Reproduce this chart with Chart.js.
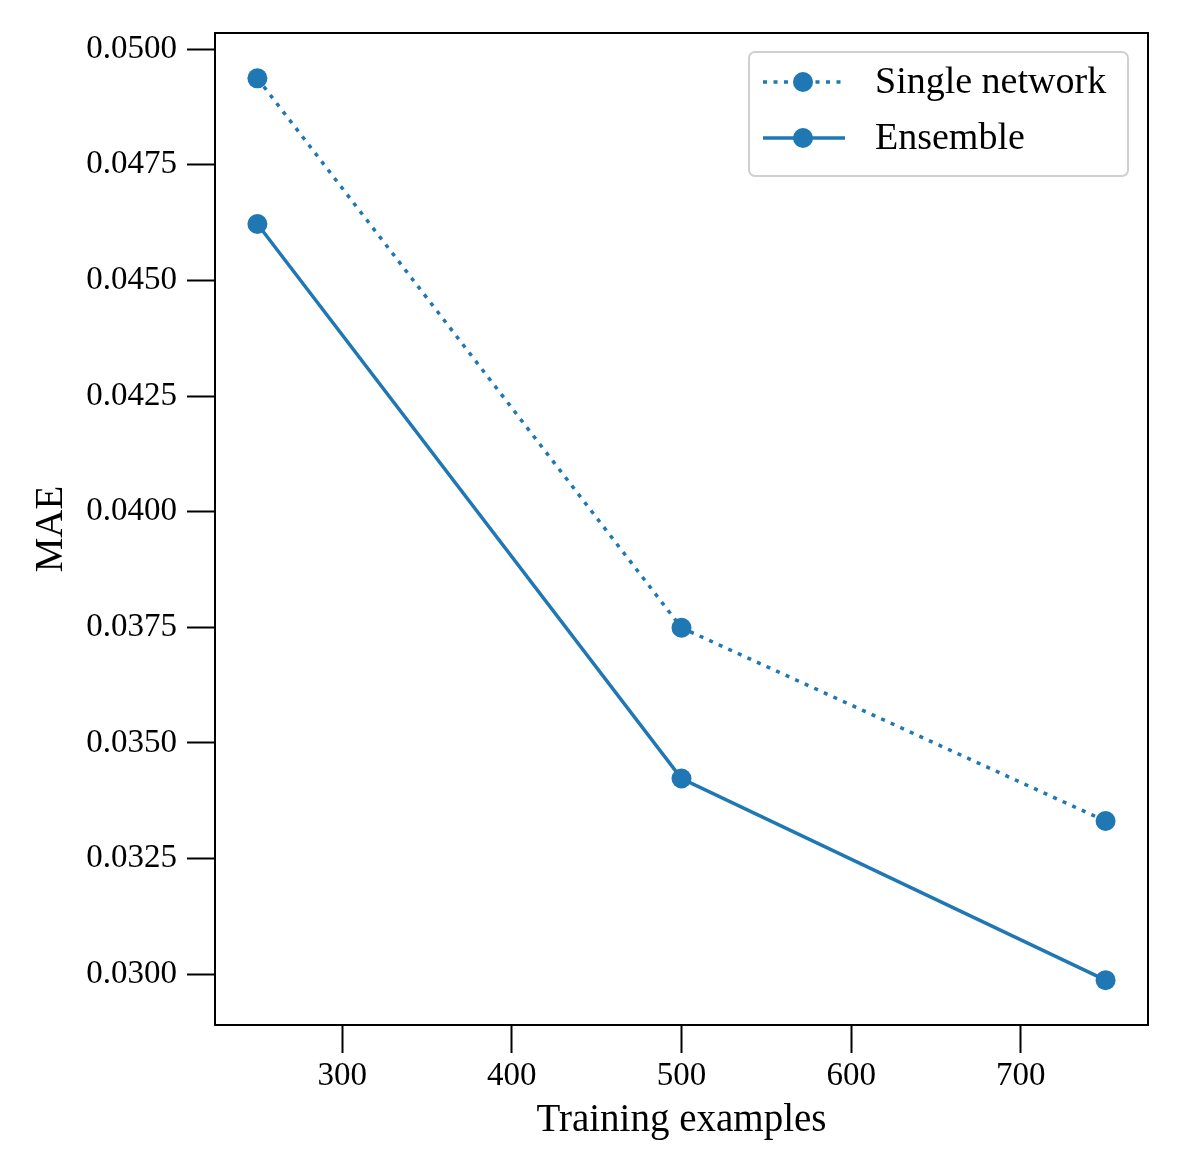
<!DOCTYPE html>
<html>
<head>
<meta charset="utf-8">
<script src="https://cdn.jsdelivr.net/npm/chart.js@4/dist/chart.umd.min.js"></script>
<style>
  html, body { margin: 0; padding: 0; background: #fff; }
</style>
</head>
<body>
<canvas id="maeChart" width="1196" height="1170"></canvas>
<script>
// training set sizes and errors
const trainingSizes = [250, 500, 750];
const singleNetworkMAE = [0.04937, 0.03749, 0.03331];
const ensembleMAE = [0.04622, 0.03423, 0.02987];
const seriesLabels = ["Single network", "Ensemble"];

const xTickValues = [300, 400, 500, 600, 700];
const yTickValues = [0.0300, 0.0325, 0.0350, 0.0375, 0.0400, 0.0425, 0.0450, 0.0475, 0.0500];

const blue = "#1f77b4";
const serif = "'Liberation Serif', 'DejaVu Serif', serif";

function toPoints(xs, ys) {
    return xs.map((x, i) => ({ x: x, y: ys[i] }));
}

// box around the plot + framed legend like matplotlib
const frameAndLegend = {
    id: "frameAndLegend",
    afterDraw(chart) {
        const c = chart.ctx;
        const a = chart.chartArea;
        c.save();
        c.strokeStyle = "#000";
        c.lineWidth = 2;
        c.strokeRect(a.left, a.top, a.right - a.left, a.bottom - a.top);

        // legend box
        const bx = 749, by = 52, bw = 379, bh = 124, r = 6;
        c.beginPath();
        c.moveTo(bx + r, by);
        c.arcTo(bx + bw, by, bx + bw, by + bh, r);
        c.arcTo(bx + bw, by + bh, bx, by + bh, r);
        c.arcTo(bx, by + bh, bx, by, r);
        c.arcTo(bx, by, bx + bw, by, r);
        c.closePath();
        c.fillStyle = "rgba(255,255,255,0.8)";
        c.fill();
        c.strokeStyle = "#d0d0d0";
        c.lineWidth = 2;
        c.stroke();

        chart.data.datasets.forEach((ds, i) => {
            const y = 82 + i * 56;
            c.strokeStyle = ds.borderColor;
            c.lineWidth = ds.borderWidth;
            c.setLineDash(ds.borderDash || []);
            c.beginPath();
            c.moveTo(763, y);
            c.lineTo(845, y);
            c.stroke();
            c.setLineDash([]);
            c.fillStyle = ds.pointBackgroundColor;
            c.beginPath();
            c.arc(803, y, 10, 0, Math.PI * 2);
            c.fill();
            c.fillStyle = "#000";
            c.font = "38px " + serif;
            c.textBaseline = "middle";
            c.textAlign = "left";
            c.fillText(ds.label, 875, y + 1);
        });
        c.restore();
    }
};

new Chart(document.getElementById("maeChart").getContext("2d"), {
    type: "line",
    data: {
        datasets: [
            {
                label: seriesLabels[0],
                data: toPoints(trainingSizes, singleNetworkMAE),
                borderColor: blue,
                borderWidth: 3.5,
                borderDash: [4, 6.5],
                borderCapStyle: "butt",
                pointRadius: 10,
                pointBackgroundColor: blue,
                pointBorderWidth: 0,
                tension: 0
            },
            {
                label: seriesLabels[1],
                data: toPoints(trainingSizes, ensembleMAE),
                borderColor: blue,
                borderWidth: 3.5,
                pointRadius: 10,
                pointBackgroundColor: blue,
                pointBorderWidth: 0,
                tension: 0
            }
        ]
    },
    options: {
        responsive: false,
        animation: false,
        devicePixelRatio: 1,
        layout: { padding: { top: 33, right: 48, left: 0, bottom: 0 } },
        plugins: {
            legend: { display: false },
            tooltip: { enabled: false }
        },
        scales: {
            x: {
                type: "linear",
                min: 225,
                max: 775,
                afterFit(scale) { scale.height = 145; },
                afterBuildTicks(scale) { scale.ticks = xTickValues.map(v => ({ value: v })); },
                border: { display: true, color: "#000", width: 2 },
                grid: { display: true, drawOnChartArea: false, drawTicks: true, tickLength: 28, color: "#000", tickWidth: 2 },
                ticks: {
                    color: "#000",
                    font: { family: serif, size: 33 },
                    padding: 4,
                    maxRotation: 0,
                    callback: v => String(v)
                },
                title: {
                    display: true,
                    text: "Training examples",
                    color: "#000",
                    font: { family: serif, size: 39 },
                    padding: { top: 0, bottom: 26 }
                }
            },
            y: {
                type: "linear",
                min: 0.02890,
                max: 0.05035,
                afterFit(scale) { scale.width = 215; },
                afterBuildTicks(scale) { scale.ticks = yTickValues.map(v => ({ value: v })); },
                border: { display: true, color: "#000", width: 2 },
                grid: { display: true, drawOnChartArea: false, drawTicks: true, tickLength: 28, color: "#000", tickWidth: 2 },
                ticks: {
                    color: "#000",
                    font: { family: serif, size: 33 },
                    padding: 10,
                    callback: v => Number(v).toFixed(4)
                },
                title: {
                    display: true,
                    text: "MAE",
                    color: "#000",
                    font: { family: serif, size: 39 },
                    padding: { top: 28, bottom: 0 }
                }
            }
        }
    },
    plugins: [frameAndLegend]
});
</script>
</body>
</html>
